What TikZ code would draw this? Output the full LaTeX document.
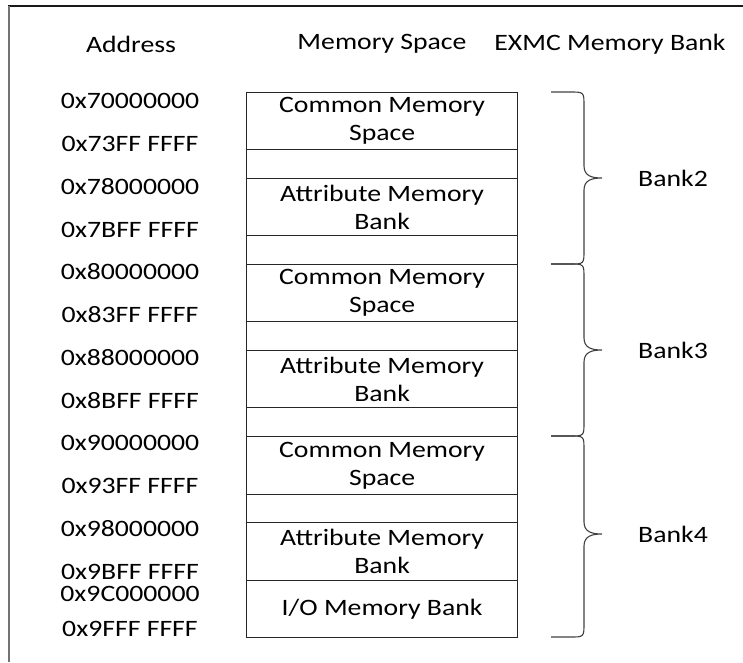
\documentclass[tikz,border=0pt]{standalone}
\usepackage{fontspec}
\setmainfont{Carlito}[FakeStretch=1.18]
\begin{document}
\begin{tikzpicture}[x=1pt,y=-1pt,
  txt/.style={font=\fontsize{23.5}{28}\selectfont, inner sep=0pt, align=center, text=black},
  cell/.style={txt, draw=black!85, line width=1.2pt, minimum width=271pt, anchor=north west},
  brc/.style={draw=black!75, line width=1.1pt}]
\useasboundingbox (0,0) rectangle (743,662);
% partial frame
\draw[line width=1.3pt, black!90] (8,6) -- (743,6);
\draw[line width=2pt, black!55] (8.5,6) -- (8.5,662);
% headers
\node[txt] (hAddr) at (131,44) {Address};
\node[txt] (hMem) at (382,44) {Memory Space};
\node[txt] (hBank) at (610,44) {EXMC Memory Bank};
% memory cells
\node[cell, minimum height=57pt] (c2) at (246,92) {Common Memory\\Space};
\node[cell, minimum height=29pt] (g2a) at (246,149) {};
\node[cell, minimum height=57pt] (a2) at (246,178) {Attribute Memory\\Bank};
\node[cell, minimum height=29pt] (g2b) at (246,235) {};
\node[cell, minimum height=57pt] (c3) at (246,264) {Common Memory\\Space};
\node[cell, minimum height=29pt] (g3a) at (246,321) {};
\node[cell, minimum height=57pt] (a3) at (246,350) {Attribute Memory\\Bank};
\node[cell, minimum height=29pt] (g3b) at (246,407) {};
\node[cell, minimum height=58pt] (c4) at (246,436) {Common Memory\\Space};
\node[cell, minimum height=28pt] (g4a) at (246,494) {};
\node[cell, minimum height=58pt] (a4) at (246,522) {Attribute Memory\\Bank};
\node[cell, minimum height=57pt] (io) at (246,580) {I/O Memory Bank};
% addresses
\node[txt] (ad1) at (130,101) {0x70000000};
\node[txt] (ad2) at (130,144) {0x73FF FFFF};
\node[txt] (ad3) at (130,187) {0x78000000};
\node[txt] (ad4) at (130,230) {0x7BFF FFFF};
\node[txt] (ad5) at (130,272) {0x80000000};
\node[txt] (ad6) at (130,315) {0x83FF FFFF};
\node[txt] (ad7) at (130,358) {0x88000000};
\node[txt] (ad8) at (130,401) {0x8BFF FFFF};
\node[txt] (ad9) at (130,443) {0x90000000};
\node[txt] (ad10) at (130,486) {0x93FF FFFF};
\node[txt] (ad11) at (130,529) {0x98000000};
\node[txt] (ad12) at (130,572) {0x9BFF FFFF};
\node[txt] (ad13) at (130,594) {0x9C000000};
\node[txt] (ad14) at (130,629) {0x9FFF FFFF};
% braces
\foreach \T/\M/\B in {92/178/264, 264/350/436, 436/534/637}{
  \draw[brc] (551,\T) -- (570,\T) .. controls (584,\T) .. (584,\T+14)
    -- (584,\M-12) .. controls (584,\M-2) and (592,\M) .. (602,\M)
    .. controls (592,\M) and (584,\M+2) .. (584,\M+12)
    -- (584,\B-14) .. controls (584,\B) .. (570,\B) -- (551,\B);
}
\node[txt] (b2) at (673,178) {Bank2};
\node[txt] (b3) at (673,350) {Bank3};
\node[txt] (b4) at (673,534) {Bank4};
\end{tikzpicture}
\end{document}
